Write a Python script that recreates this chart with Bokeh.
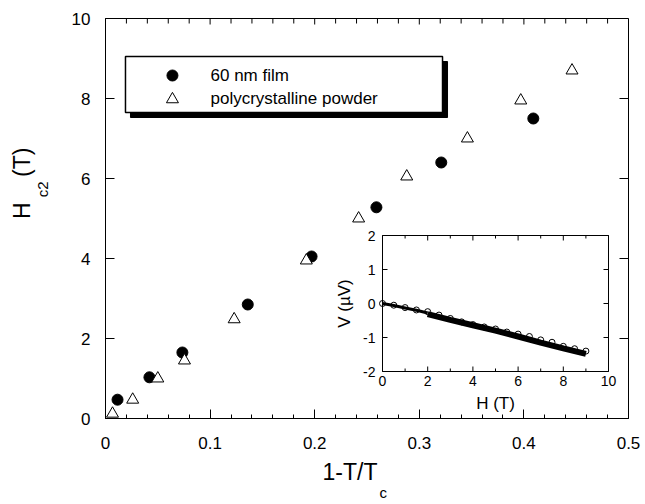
import math
from bokeh.plotting import figure
from bokeh.models import Range1d, LinearAxis, FixedTicker, NumeralTickFormatter, Title
from bokeh.core.properties import value
from bokeh.embed import file_html
from bokeh.resources import INLINE

# ---------------- data ----------------
film_x = [0.0115, 0.042, 0.0735, 0.136, 0.197, 0.259, 0.321, 0.409]
film_y = [0.47, 1.03, 1.65, 2.85, 4.05, 5.28, 6.40, 7.50]

powder_x = [0.0067, 0.026, 0.050, 0.0755, 0.123, 0.192, 0.242, 0.288, 0.346, 0.397, 0.446]
powder_y = [0.12, 0.47, 1.00, 1.45, 2.48, 3.95, 5.00, 6.05, 7.00, 7.95, 8.70]

# inset: V(H)
inset_h = [0, 0.5, 1, 1.5, 2, 2.5, 3, 3.5, 4, 4.5, 5, 5.5, 6, 6.5, 7, 7.5, 8, 8.5, 9]
inset_v = [0, -0.05, -0.12, -0.19, -0.24, -0.34, -0.44, -0.54, -0.62, -0.69,
           -0.75, -0.84, -0.90, -0.97, -1.07, -1.14, -1.26, -1.33, -1.40]
trace_lo_h = [0, 0.5, 1, 1.5, 2]
trace_lo_v = [0, -0.06, -0.13, -0.20, -0.28]
trace_hi_h = [2, 3, 4, 5, 6, 7, 8, 9]
trace_hi_v = [-0.31, -0.48, -0.64, -0.80, -0.97, -1.15, -1.32, -1.48]

x_ticks = [0, 0.1, 0.2, 0.3, 0.4, 0.5]
x_minor_ticks = [0.02, 0.04, 0.06, 0.08, 0.12, 0.14, 0.16, 0.18, 0.22, 0.24, 0.26, 0.28,
                 0.32, 0.34, 0.36, 0.38, 0.42, 0.44, 0.46, 0.48]
y_ticks = [0, 2, 4, 6, 8, 10]

inset_x_ticks = [0, 2, 4, 6, 8, 10]
inset_x_labels = ["0", "2", "4", "6", "8", "10"]
inset_x_minor = [1, 3, 5, 7, 9]
inset_y_ticks = [-2, -1, 0, 1, 2]
inset_y_labels = ["-2", "-1", "0", "1", "2"]

legend_labels = ["60 nm film", "polycrystalline powder"]

FONT = "Liberation Sans"
NB = "\u00a0"

# ---------------- layout constants (pixels) ----------------
FW, FH = 523, 400
# inset frame in pixels relative to main frame
IL, IR, IT, IB = 277, 503, 217, 353
sx = (IR - IL) / 10.0
sy = (IB - IT) / 4.0
ix0 = 0 - IL / sx
ix1 = 10 + (FW - IR) / sx
iy1 = 2 + IT / sy
iy0 = -2 - (FH - IB) / sy
px_x = 0.5 / FW   # main data units per pixel
px_y = 10.0 / FH

p = figure(frame_width=FW, frame_height=FH, output_backend="svg", toolbar_location=None,
           x_range=Range1d(0, 0.5), y_range=Range1d(0, 10),
           min_border_left=105, min_border_right=17, min_border_top=18, min_border_bottom=86)
p.extra_x_ranges = {"ix": Range1d(ix0, ix1)}
p.extra_y_ranges = {"iy": Range1d(iy0, iy1)}
p.grid.visible = False
p.outline_line_color = "black"
p.outline_line_width = 1
p.background_fill_color = "white"
p.border_fill_color = "white"

xa = p.xaxis[0]
ya = p.yaxis[0]
xa.ticker = FixedTicker(ticks=x_ticks, minor_ticks=x_minor_ticks)
xa.formatter = NumeralTickFormatter(format="0.[0]")
ya.ticker = FixedTicker(ticks=y_ticks, minor_ticks=[])
for ax in (xa, ya):
    ax.axis_line_color = "black"
    ax.major_tick_in = 9
    ax.major_tick_out = 0
    ax.minor_tick_in = 4
    ax.minor_tick_out = 0
    ax.major_label_text_font = FONT
    ax.major_label_text_font_size = "17px"
    ax.major_label_text_color = "black"
xa.major_label_standoff = 18
ya.major_label_standoff = 15

# y title: subscript on the tick-label axis, "H (T)" on an outer bare axis
ya.axis_label = NB * 14 + "c2"
ya.axis_label_text_font = FONT
ya.axis_label_text_font_style = "normal"
ya.axis_label_text_font_size = "15px"
ya.axis_label_text_color = "black"
ya.axis_label_standoff = 18

outer = LinearAxis(ticker=FixedTicker(ticks=[], minor_ticks=[]),
                   axis_line_color=None, major_tick_line_color=None, minor_tick_line_color=None,
                   major_label_standoff=0,
                   major_tick_in=0, major_tick_out=0, minor_tick_in=0, minor_tick_out=0,
                   axis_label=NB * 11 + "H" + NB * 4 + "(T)", axis_label_text_font=FONT,
                   axis_label_text_font_style="normal", axis_label_text_font_size="23px",
                   axis_label_text_color="black", axis_label_standoff=-4)
p.add_layout(outer, "left")

# inward ticks on the top and right frame edges
p.segment(x0=x_ticks, x1=x_ticks, y0=[10] * len(x_ticks), y1=[10 - 6 * px_y] * len(x_ticks),
          line_color="black")
p.segment(x0=x_minor_ticks, x1=x_minor_ticks, y0=[10] * len(x_minor_ticks),
          y1=[10 - 5 * px_y] * len(x_minor_ticks), line_color="black")
p.segment(x0=[0.5] * len(y_ticks), x1=[0.5 - 9 * px_x] * len(y_ticks), y0=y_ticks, y1=y_ticks,
          line_color="black")

# x title (with subscript) as side titles
tkw = dict(text_font=FONT, text_font_style="normal", text_color="black", align="left")
p.add_layout(Title(text="1-T/T", text_font_size="23px", offset=217, standoff=10, **tkw), "below")
p.add_layout(Title(text="c", text_font_size="15px", offset=274, standoff=-15, **tkw), "below")

# ---------------- legend (drawn) ----------------
lg_l, lg_r, lg_t, lg_b = 0.0191, 0.3222, 9.05, 7.65
p.quad(left=lg_l + 5 * px_x, right=lg_r + 5 * px_x, top=lg_t - 5 * px_y, bottom=lg_b - 5 * px_y,
       fill_color="black", line_color="black")
p.quad(left=lg_l, right=lg_r, top=lg_t, bottom=lg_b, fill_color="white",
       line_color="black", line_width=1.5)
p.scatter(x=[0.064], y=[8.575], marker="circle", size=11, fill_color="black", line_color="black")
p.scatter(x=[0.064], y=[7.98], marker="triangle", size=12, fill_color="white", line_color="black")
p.text(x=[0.1004, 0.1004], y=[8.575, 8.0], text=legend_labels, text_font=value(FONT),
       text_font_size="17px", text_baseline="middle", text_align="left", text_color="black")

# ---------------- main data ----------------
p.scatter(x=film_x, y=film_y, marker="circle", size=11, fill_color="black", line_color="black")
p.scatter(x=powder_x, y=powder_y, marker="triangle", size=12, fill_color="white",
          line_color="black", line_width=1)

# ---------------- inset ----------------
kw = dict(x_range_name="ix", y_range_name="iy")
p.quad(left=[0], right=[10], bottom=[-2], top=[2], fill_color="white", line_color="black",
       line_width=1, **kw)
maj_x = 5 / sy
min_x = 3 / sy
tick_y = 5 / sx
p.segment(x0=inset_x_ticks, x1=inset_x_ticks, y0=[-2] * 6, y1=[-2 + maj_x] * 6, line_color="black", **kw)
p.segment(x0=inset_x_ticks, x1=inset_x_ticks, y0=[2] * 6, y1=[2 - maj_x] * 6, line_color="black", **kw)
p.segment(x0=inset_x_minor, x1=inset_x_minor, y0=[-2] * 5, y1=[-2 + min_x] * 5, line_color="black", **kw)
p.segment(x0=inset_x_minor, x1=inset_x_minor, y0=[2] * 5, y1=[2 - min_x] * 5, line_color="black", **kw)
p.segment(x0=[0] * 5, x1=[tick_y] * 5, y0=inset_y_ticks, y1=inset_y_ticks, line_color="black", **kw)
p.segment(x0=[10] * 5, x1=[10 - tick_y] * 5, y0=inset_y_ticks, y1=inset_y_ticks, line_color="black", **kw)

p.line(x=trace_lo_h, y=trace_lo_v, line_color="black", line_width=3, **kw)
p.line(x=trace_hi_h, y=trace_hi_v, line_color="black", line_width=6, **kw)
p.scatter(x=inset_h, y=inset_v, marker="circle", size=6, fill_color="white", fill_alpha=0,
          line_color="black", line_width=1, **kw)

p.text(x=[-7 / sx] * 5, y=inset_y_ticks, text=inset_y_labels, text_font=value(FONT),
       text_font_size="14px", text_align="right", text_baseline="middle", text_color="black", **kw)
p.text(x=inset_x_ticks, y=[-2 - 4 / sy] * 6, text=inset_x_labels, text_font=value(FONT),
       text_font_size="14px", text_align="center", text_baseline="top", text_color="black", **kw)
p.text(x=[-38 / sx], y=[0], text=["V (µV)"], angle=math.pi / 2, text_font=value(FONT),
       text_font_size="17px", text_align="center", text_baseline="alphabetic", text_color="black", **kw)
p.text(x=[5], y=[-2 - 32 / sy], text=["H (T)"], text_font=value(FONT),
       text_font_size="17px", text_align="center", text_baseline="alphabetic", text_color="black", **kw)

open("out.html", "w").write(file_html(p, INLINE))
